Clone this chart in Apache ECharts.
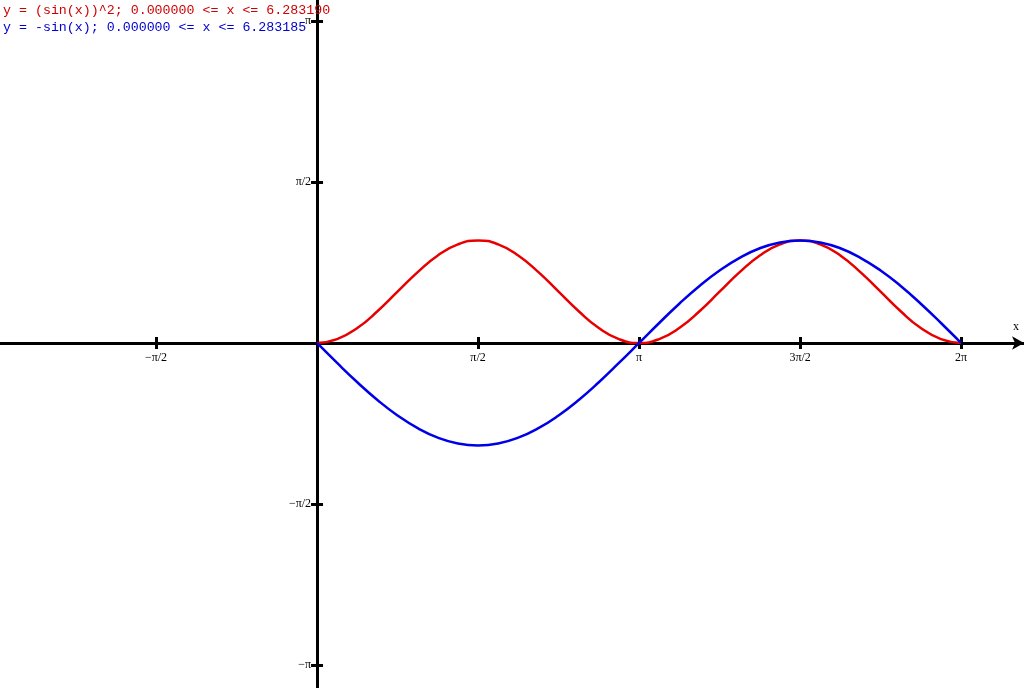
<!DOCTYPE html>
<html>
<head>
<meta charset="utf-8">
<script src="https://cdn.jsdelivr.net/npm/echarts@6/dist/echarts.min.js"></script>
<style>html,body{margin:0;padding:0;background:#fff}#c{width:1024px;height:688px}</style>
</head>
<body>
<div id="c"></div>
<script>
// sample x positions (k*pi/16, k = 0..32)
var xVals = [0, 0.196, 0.393, 0.589, 0.785, 0.982, 1.178, 1.374, 1.571, 1.767, 1.963, 2.160, 2.356, 2.553, 2.749, 2.945, 3.142,
             3.338, 3.534, 3.731, 3.927, 4.123, 4.320, 4.516, 4.712, 4.909, 5.105, 5.301, 5.498, 5.694, 5.890, 6.087, 6.283];
var redVals = [0, 0.038, 0.146, 0.309, 0.5, 0.691, 0.854, 0.962, 1, 0.962, 0.854, 0.691, 0.5, 0.309, 0.146, 0.038, 0,
               0.038, 0.146, 0.309, 0.5, 0.691, 0.854, 0.962, 1, 0.962, 0.854, 0.691, 0.5, 0.309, 0.146, 0.038, 0];
var blueVals = [0, -0.195, -0.383, -0.556, -0.707, -0.831, -0.924, -0.981, -1, -0.981, -0.924, -0.831, -0.707, -0.556, -0.383, -0.195, 0,
                0.195, 0.383, 0.556, 0.707, 0.831, 0.924, 0.981, 1, 0.981, 0.924, 0.831, 0.707, 0.556, 0.383, 0.195, 0];
var xTickVals = [-1.5708, 1.5708, 3.1416, 4.7124, 6.2832];
var xTickLabels = ['\u2212\u03c0/2', '\u03c0/2', '\u03c0', '3\u03c0/2', '2\u03c0'];
var yTickVals = [3.1416, 1.5708, -1.5708, -3.1416];
var yTickLabels = ['\u03c0', '\u03c0/2', '\u2212\u03c0/2', '\u2212\u03c0'];
var legendLines = ['y = (sin(x))^2; 0.000000 <= x <= 6.283190', 'y = -sin(x); 0.000000 <= x <= 6.283185'];
var seriesColors = ['#e80000', '#0000e8'];
var textColors = ['#d00000', '#0000d0'];

var XMIN = -3.093, XMAX = 6.897, YMIN = -3.366, YMAX = 3.346;
var W = 1024, H = 688;
var zeroX = -XMIN / (XMAX - XMIN) * W;   // pixel of x = 0
var zeroY = YMAX / (YMAX - YMIN) * H;    // pixel of y = 0

function pick(vals, labels, v) {
  for (var i = 0; i < vals.length; i++) if (Math.abs(vals[i] - v) < 1e-3) return labels[i];
  return '';
}
function pairs(xs, ys) { return xs.map(function (x, i) { return [x, ys[i]]; }); }

var chart = echarts.init(document.getElementById('c'), null, {renderer: 'canvas'});
var tickStyle = {color: '#000', width: 3};
var axisLineStyle = {color: '#000', width: 3};
var lblFont = 'Liberation Serif';

function hiddenAxis(grid, min, max) {
  return {type: 'value', gridIndex: grid, min: min, max: max, show: false,
          axisLine: {show: false, onZero: false}, axisTick: {show: false}, axisLabel: {show: false}, splitLine: {show: false}};
}
var gbase = {outerBoundsMode: 'none', containLabel: false};
function grid(o) { return Object.assign({}, gbase, o); }

chart.setOption({
  animation: false,
  backgroundColor: '#fff',
  title: [
    {text: legendLines[0], left: 3, top: 4, padding: 0, textStyle: {fontFamily: 'Liberation Mono', fontSize: 13.3, fontWeight: 'normal', color: textColors[0]}},
    {text: legendLines[1], left: 3, top: 21, padding: 0, textStyle: {fontFamily: 'Liberation Mono', fontSize: 13.3, fontWeight: 'normal', color: textColors[1]}},
    {text: 'x', left: 1013, top: 321, padding: 0, textStyle: {fontFamily: lblFont, fontSize: 12, fontWeight: 'normal', color: '#000'}}
  ],
  grid: [
    grid({left: 0, right: 0, top: 0, bottom: 0}),
    grid({left: 0, right: 0, top: 0, height: zeroY}),
    grid({left: 0, right: 0, top: 0, height: zeroY}),
    grid({left: zeroX, right: 0, top: 0, bottom: 0}),
    grid({left: zeroX, right: 0, top: 0, bottom: 0})
  ],
  xAxis: [
    hiddenAxis(0, XMIN, XMAX),
    {type: 'value', gridIndex: 1, min: XMIN, max: XMAX, position: 'bottom',
     axisLine: {show: true, onZero: false, lineStyle: axisLineStyle, symbol: ['none', 'arrow'], symbolSize: [10, 12], symbolOffset: [0, 0]},
     axisTick: {show: true, inside: false, length: 6, lineStyle: tickStyle, customValues: xTickVals},
     axisLabel: {show: true, margin: 9, customValues: xTickVals, formatter: function (v) { return pick(xTickVals, xTickLabels, v); },
                 fontFamily: lblFont, fontSize: 12, color: '#000'},
     splitLine: {show: false}},
    {type: 'value', gridIndex: 2, min: XMIN, max: XMAX, position: 'bottom',
     axisLine: {show: false, onZero: false},
     axisTick: {show: true, inside: true, length: 6, lineStyle: tickStyle, customValues: xTickVals},
     axisLabel: {show: false}, splitLine: {show: false}},
    hiddenAxis(3, 0, 1),
    hiddenAxis(4, 0, 1)
  ],
  yAxis: [
    hiddenAxis(0, YMIN, YMAX),
    hiddenAxis(1, 0, 1),
    hiddenAxis(2, 0, 1),
    {type: 'value', gridIndex: 3, min: YMIN, max: YMAX, position: 'left',
     axisLine: {show: true, onZero: false, lineStyle: axisLineStyle},
     axisTick: {show: true, inside: false, length: 6, lineStyle: tickStyle, customValues: yTickVals},
     axisLabel: {show: true, margin: 6, customValues: yTickVals, formatter: function (v) { return pick(yTickVals, yTickLabels, v); },
                 fontFamily: lblFont, fontSize: 12, color: '#000'},
     splitLine: {show: false}},
    {type: 'value', gridIndex: 4, min: YMIN, max: YMAX, position: 'left',
     axisLine: {show: false, onZero: false},
     axisTick: {show: true, inside: true, length: 6, lineStyle: tickStyle, customValues: yTickVals},
     axisLabel: {show: false}, splitLine: {show: false}}
  ],
  series: [
    {type: 'line', xAxisIndex: 0, yAxisIndex: 0, data: pairs(xVals, redVals), smooth: true, showSymbol: false,
     lineStyle: {color: seriesColors[0], width: 2.5}, z: 3},
    {type: 'line', xAxisIndex: 0, yAxisIndex: 0, data: pairs(xVals, blueVals), smooth: true, showSymbol: false,
     lineStyle: {color: seriesColors[1], width: 2.5}, z: 4}
  ]
});
</script>
</body>
</html>
